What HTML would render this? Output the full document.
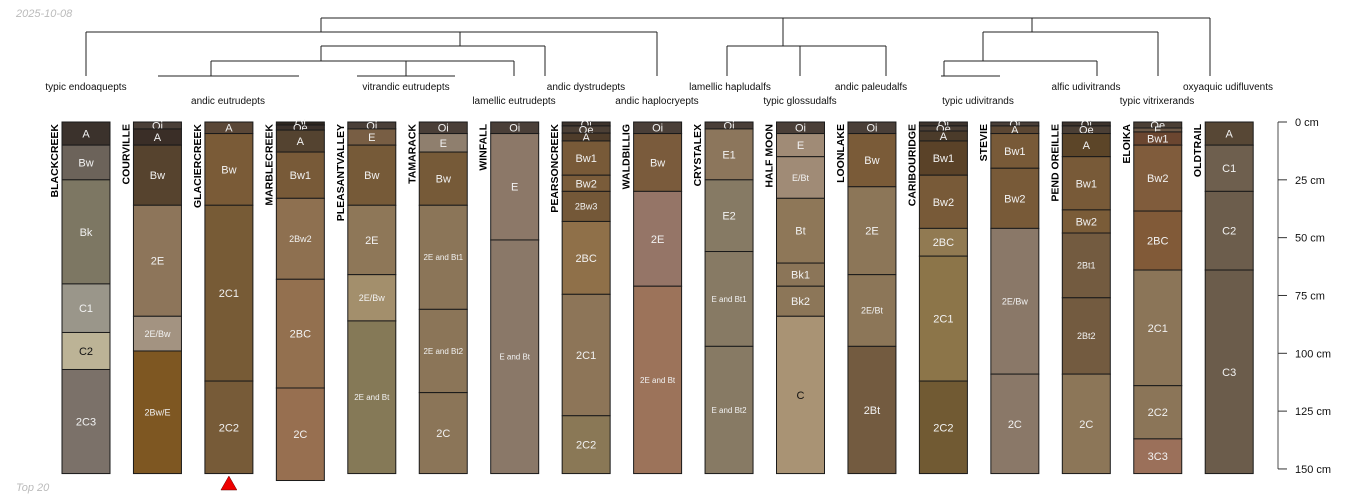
<!DOCTYPE html>
<html><head><meta charset="utf-8"><style>
body{margin:0;background:#fff;}
svg{display:block;font-family:"Liberation Sans",sans-serif;}
</style></head><body>
<svg id="chart" width="1350" height="500" viewBox="0 0 1350 500" xmlns="http://www.w3.org/2000/svg">
<text x="16" y="17" font-size="11" font-style="italic" fill="#bbb">2025-10-08</text>
<text x="16" y="491" font-size="11" font-style="italic" fill="#bbb">Top 20</text>
<g id="dendro" stroke="#222" stroke-width="1" fill="none"></g>
<g id="taxa" font-size="10" fill="#111" text-anchor="middle"></g>
<g id="profiles"></g>
<g id="axis"></g>
</svg>
<script>
const NS="http://www.w3.org/2000/svg";
const profileNames=["BLACKCREEK","COURVILLE","GLACIERCREEK","MARBLECREEK","PLEASANTVALLEY","TAMARACK","WINFALL","PEARSONCREEK","WALDBILLIG","CRYSTALEX","HALF MOON","LOONLAKE","CARIBOURIDGE","STEVIE","PEND OREILLE","ELOIKA","OLDTRAIL"];
const horizonNames=[
["A","Bw","Bk","C1","C2","2C3"],
["Oi","A","Bw","2E","2E/Bw","2Bw/E"],
["A","Bw","2C1","2C2"],
["Oi","Oe","A","Bw1","2Bw2","2BC","2C"],
["Oi","E","Bw","2E","2E/Bw","2E and Bt"],
["Oi","E","Bw","2E and Bt1","2E and Bt2","2C"],
["Oi","E","E and Bt"],
["Oi","Oe","A","Bw1","Bw2","2Bw3","2BC","2C1","2C2"],
["Oi","Bw","2E","2E and Bt"],
["Oi","E1","E2","E and Bt1","E and Bt2"],
["Oi","E","E/Bt","Bt","Bk1","Bk2","C"],
["Oi","Bw","2E","2E/Bt","2Bt"],
["Oi","Oe","A","Bw1","Bw2","2BC","2C1","2C2"],
["Oi","A","Bw1","Bw2","2E/Bw","2C"],
["Oi","Oe","A","Bw1","Bw2","2Bt1","2Bt2","2C"],
["Oe","E","Bw1","Bw2","2BC","2C1","2C2","3C3"],
["A","C1","C2","C3"]];
const horizonDepths=[
[0,10,25,70,91,107,152],
[0,3,10,36,84,99,152],
[0,5,36,112,152],
[0,1.3,3.5,13,33,68,115,155],
[0,3,10,36,66,86,152],
[0,5,13,36,81,117,152],
[0,5,51,152],
[0,1.7,4.8,8.2,23,30,43,74.5,127,152],
[0,5,30,71,152],
[0,3,25,56,97,152],
[0,5,15,33,61,71,84,152],
[0,5,28,66,97,152],
[0,1.7,3.9,8.2,23,46,58,112,152],
[0,1.7,5,20,46,109,152],
[0,1.7,5,15,38,48,76,109,152],
[0,2.6,4.3,10,38.5,64,114,137,152],
[0,10,30,64,152]];
const horizonColors=[
["#3b322c","#6c635a","#7d7763","#9a968a","#bcb396","#7b7169"],
["#4a3f38","#3a2e27","#56432e","#8d755a","#a39381","#7e5722"],
["#5a4737","#7a5b37","#775b36","#775b38"],
["#2e2620","#3a302a","#544330","#785a38","#8e7050","#93704f","#976f50"],
["#4a3f38","#785e44","#765a38","#8e7758","#a38f6c","#857957"],
["#4a3f38","#8f7f6e","#765a38","#8b7558","#8b7558","#8b7558"],
["#4a3f38","#8c7868","#8a7868"],
["#3e342d","#4b3f35","#4e3c2a","#785a38","#7a5c3a","#745838","#8f7049","#8d7558","#8a7856"],
["#4a3f38","#7a5b3c","#957567","#9c735a"],
["#4a3f38","#8c765c","#867a64","#877a64","#877a64"],
["#4a3f38","#a08b76","#a08b76","#8e7758","#8b7558","#8c7658","#a99374"],
["#4a3f38","#7a5b38","#8c7658","#8c7658","#735b40"],
["#3e342d","#4b3f35","#4b3b2a","#5a4228","#785a38","#917a52","#8c7549","#715a33"],
["#4a3f38","#5c4733","#785a38","#785a38","#8a7868","#8a7868"],
["#3e342d","#4b3f35","#5c4528","#785a38","#7a5c38","#735b40","#735b40","#8c7658"],
["#4b3f35","#6e5a48","#6b4630","#805c3c","#815a38","#8b7558","#8b7558","#9b705a"],
["#574735","#6e5f4e","#6c5d4c","#6b5c4b"]];
const darkText=["C2@0","C@10"];
const depthTicks=[0,25,50,75,100,125,150];
const taxaNames=["typic endoaquepts","andic eutrudepts","vitrandic eutrudepts","lamellic eutrudepts","andic dystrudepts","andic haplocryepts","lamellic hapludalfs","typic glossudalfs","andic paleudalfs","typic udivitrands","alfic udivitrands","typic vitrixerands","oxyaquic udifluvents"];
const taxaX=[86,228,406,514,586,657,730,800,871,978,1086,1157,1228];
const taxaRow=[0,1,0,1,0,1,0,1,0,1,0,1,0];

const y=d=>122+d*2.313;
const colX=i=>62+i*71.45;
const W=48;
function el(tag,attrs,parent){const e=document.createElementNS(NS,tag);for(const k in attrs)e.setAttribute(k,attrs[k]);parent.appendChild(e);return e;}

const P=document.getElementById('profiles');
profileNames.forEach((nm,i)=>{
  const g=el('g',{},P);
  
  
  const x=colX(i);
  const t=el('text',{x:0,y:0,transform:`translate(${x-4},124) rotate(-90)`,'text-anchor':'end','font-size':'10.5','font-weight':'bold',fill:'#000'},g);
  t.textContent=nm;
  
  
  const d=horizonDepths[i];
  horizonNames[i].forEach((h,j)=>{
    const y0=y(d[j]),y1=y(d[j+1]);
    const r=el('rect',{x:x,y:y0,width:W,height:y1-y0,fill:horizonColors[i][j],stroke:'#1a1a1a','stroke-width':'1'},g);
    
    
    const fs=h.length>6?8:(h.length>3?9:11);
    const dark=darkText.includes(h+'@'+i);
    const lt=el('text',{x:x+W/2,y:(y0+y1)/2+fs*0.36,'text-anchor':'middle','font-size':fs,fill:dark?'#111':'#f2f2f2'},g);
    lt.textContent=h;
    
    
  });
});
// red marker under GLACIERCREEK
const tri=el('polygon',{points:`${colX(2)+24},476 ${colX(2)+16},490 ${colX(2)+32},490`,fill:'#e00',stroke:'#600','stroke-width':'0.5'},P);



// axis
const A=document.getElementById('axis');
const al=el('line',{x1:1278,y1:y(0),x2:1278,y2:y(150),stroke:'#888','stroke-width':'1.5'},A);


depthTicks.forEach(v=>{
  const tk=el('line',{x1:1278,y1:y(v),x2:1287,y2:y(v),stroke:'#333','stroke-width':'1'},A);
  
  
  const tl=el('text',{x:1295,y:y(v)+4,'font-size':'11',fill:'#111'},A);
  tl.textContent=v+' cm';
  
  
});

// dendrogram
const D=document.getElementById('dendro');
const segs=[[321,18,1210,18],[321,18,321,32],[1210,18,1210,76],[86,32,657,32],[86,32,86,76],[657,32,657,76],
[460,32,460,46],[321,46,545,46],[545,46,545,76],[321,46,321,61],[211,61,514,61],[211,61,211,76],[158,76,299,76],
[514,61,514,76],[406,61,406,76],[357,76,455,76],
[783,18,783,46],[727,46,886,46],[727,46,727,76],[800,46,800,76],[886,46,886,76],
[1032,18,1032,32],[983,32,1158,32],[1158,32,1158,76],[983,32,983,61],[944,61,1097,61],[1097,61,1097,76],[944,61,944,76],[941,76,1000,76]];
segs.forEach(s=>{const l=el('line',{x1:s[0],y1:s[1],x2:s[2],y2:s[3]},D);
  
  });
const T=document.getElementById('taxa');
taxaNames.forEach((n,i)=>{const t=el('text',{x:taxaX[i],y:taxaRow[i]?104:90},T);t.textContent=n;
  
  });
</script>
</body></html>
